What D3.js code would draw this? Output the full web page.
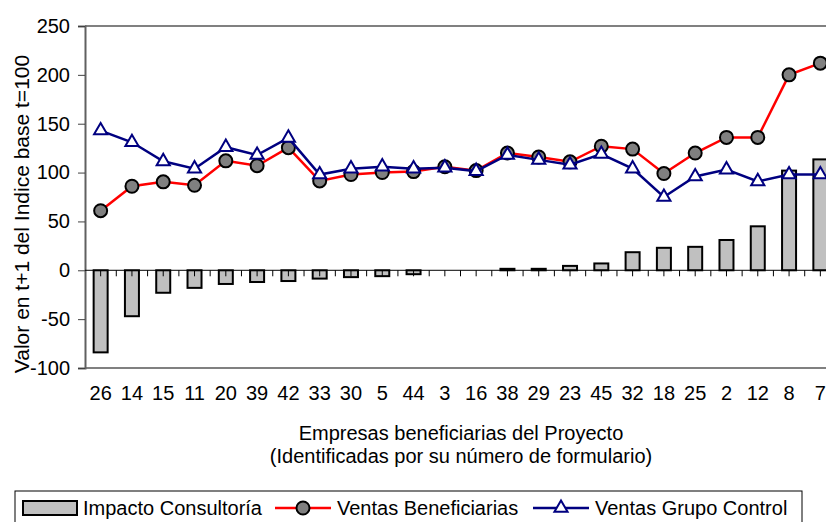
<!DOCTYPE html>
<html>
<head>
<meta charset="utf-8">
<script src="https://cdn.jsdelivr.net/npm/d3@7"></script>
<style>
  body { margin: 0; background: #fff; }
  svg { font-family: 'Liberation Sans', Arial, sans-serif; }
</style>
</head>
<body>
<div class="chart"></div>
<script>
// company ids (form numbers), ordered by consulting impact
var empresas = ['26', '14', '15', '11', '20', '39', '42', '33', '30', '5', '44', '3',
  '16', '38', '29', '23', '45', '32', '18', '25', '2', '12', '8', '7']

var impacto = [-84, -47, -23, -18, -14, -12, -11, -8.5, -7, -6, -4, 0,
  0, 1.5, 1.5, 4.5, 7, 18.5, 23, 24, 31, 45, 102, 113.5]

var ventasBenef = [61, 86, 90.5, 87, 112, 107, 125.5, 91.5, 98, 100, 101, 106,
  102, 120, 116, 111, 127, 124, 99, 120, 136, 136, 200, 212]

var ventasControl = [143, 131, 111.5, 104, 126, 118, 135.5, 98, 104, 106, 104, 105,
  101.5, 118, 113, 108, 119, 104, 75, 96, 103, 91, 98, 98]

var yTicks = [-100, -50, 0, 50, 100, 150, 200, 250]

var W = 826, H = 522
// note: "top" is taken by window.top, so use m.*
var m = { left: 85, right: 836, top: 26, bottom: 368 }

var svg = d3.select('.chart')
  .append('svg')
    .attr('width', W)
    .attr('height', H)

var x = d3.scaleBand()
  .domain(empresas)
  .range([m.left, m.right])

var y = d3.scaleLinear()
  .domain([-100, 250])
  .range([m.bottom, m.top])

var cx = d => x(d) + x.bandwidth() / 2

// plot frame (top and bottom lines gray)
svg.append('line')
  .attr('x1', m.left).attr('x2', W)
  .attr('y1', m.top).attr('y2', m.top)
  .style('stroke', '#808080').style('stroke-width', 2)
svg.append('line')
  .attr('x1', m.left).attr('x2', W)
  .attr('y1', m.bottom).attr('y2', m.bottom)
  .style('stroke', '#808080').style('stroke-width', 2)

// y axis (plain hyphen for negatives, like the original)
var yAxis = svg.append('g')
  .attr('transform', `translate(${m.left},0)`)
  .call(d3.axisLeft(y).tickValues(yTicks).tickSize(7).tickPadding(8).tickFormat(d => String(d)))
yAxis.select('.domain').style('stroke', '#606060').style('stroke-width', 2)
yAxis.selectAll('.tick line').style('stroke', '#404040').style('stroke-width', 1)
yAxis.selectAll('.tick text')
  .style('font-size', '20px')
  .style('fill', '#000')
  .style('font-family', "'Liberation Sans', Arial, sans-serif")

// bars
svg.append('g')
  .selectAll('rect')
  .data(empresas)
  .enter()
    .append('rect')
    .attr('x', d => cx(d) - 7)
    .attr('width', 14)
    .attr('y', (d, i) => y(Math.max(0, impacto[i])))
    .attr('height', (d, i) => Math.abs(y(impacto[i]) - y(0)))
    .style('fill', '#c0c0c0')
    .style('stroke', '#000')
    .style('stroke-width', 2)

// zero line with ticks at centers and boundaries
svg.append('line')
  .attr('x1', m.left).attr('x2', W)
  .attr('y1', y(0)).attr('y2', y(0))
  .style('stroke', '#000').style('stroke-width', 1)
var tickXs = []
empresas.forEach(function (d) {
  tickXs.push(x(d), cx(d))
})
tickXs.push(m.right)
svg.append('g')
  .selectAll('line')
  .data(tickXs.filter(v => v > m.left && v < W))
  .enter()
    .append('line')
    .attr('x1', d => d).attr('x2', d => d)
    .attr('y1', y(0)).attr('y2', y(0) + 6)
    .style('stroke', '#000').style('stroke-width', 1)

// lines
var line = d3.line()
  .x(d => cx(d.k))
  .y(d => y(d.v))

var benef = empresas.map((k, i) => ({ k: k, v: ventasBenef[i] }))
var control = empresas.map((k, i) => ({ k: k, v: ventasControl[i] }))

svg.append('path')
  .datum(benef)
  .attr('d', line)
  .style('fill', 'none')
  .style('stroke', '#ff0000')
  .style('stroke-width', 2.5)

svg.append('g')
  .selectAll('circle')
  .data(benef)
  .enter()
    .append('circle')
    .attr('cx', d => cx(d.k))
    .attr('cy', d => y(d.v))
    .attr('r', 6.5)
    .style('fill', '#808080')
    .style('stroke', '#000')
    .style('stroke-width', 2)

svg.append('path')
  .datum(control)
  .attr('d', line)
  .style('fill', 'none')
  .style('stroke', '#000080')
  .style('stroke-width', 2.5)

var tri = d3.symbol().type(d3.symbolTriangle).size(75)
svg.append('g')
  .selectAll('path')
  .data(control)
  .enter()
    .append('path')
    .attr('d', tri)
    .attr('transform', d => `translate(${cx(d.k)},${y(d.v)})`)
    .style('fill', '#fff')
    .style('stroke', '#000080')
    .style('stroke-width', 2)

// category labels
svg.append('g')
  .selectAll('text')
  .data(empresas)
  .enter()
    .append('text')
    .attr('x', d => cx(d))
    .attr('y', 400)
    .attr('text-anchor', 'middle')
    .style('font-size', '20px')
    .text(d => d)

// axis titles
svg.append('text')
  .attr('x', 461).attr('y', 440)
  .attr('text-anchor', 'middle')
  .style('font-size', '20px')
  .text('Empresas beneficiarias del Proyecto')
svg.append('text')
  .attr('x', 461).attr('y', 463)
  .attr('text-anchor', 'middle')
  .style('font-size', '20px')
  .text('(Identificadas por su número de formulario)')

svg.append('text')
  .attr('transform', 'translate(29,214) rotate(-90)')
  .attr('text-anchor', 'middle')
  .style('font-size', '21px')
  .text('Valor en t+1 del Indice base t=100')

// legend
var lg = svg.append('g')
lg.append('rect')
  .attr('x', 15).attr('y', 491)
  .attr('width', 787).attr('height', 40)
  .style('fill', '#fff')
  .style('stroke', '#000')
  .style('stroke-width', 1)

lg.append('rect')
  .attr('x', 23).attr('y', 501)
  .attr('width', 54).attr('height', 14)
  .style('fill', '#c0c0c0')
  .style('stroke', '#000')
  .style('stroke-width', 2)
lg.append('text')
  .attr('x', 83).attr('y', 515)
  .style('font-size', '20px')
  .text('Impacto Consultoría')

lg.append('line')
  .attr('x1', 275).attr('x2', 331)
  .attr('y1', 508).attr('y2', 508)
  .style('stroke', '#ff0000').style('stroke-width', 2.5)
lg.append('circle')
  .attr('cx', 303).attr('cy', 508).attr('r', 6.5)
  .style('fill', '#808080')
  .style('stroke', '#000')
  .style('stroke-width', 2)
lg.append('text')
  .attr('x', 337).attr('y', 515)
  .style('font-size', '20px')
  .text('Ventas Beneficiarias')

lg.append('line')
  .attr('x1', 533).attr('x2', 589)
  .attr('y1', 508).attr('y2', 508)
  .style('stroke', '#000080').style('stroke-width', 2.5)
lg.append('path')
  .attr('d', tri)
  .attr('transform', 'translate(561,508)')
  .style('fill', '#fff')
  .style('stroke', '#000080')
  .style('stroke-width', 2)
lg.append('text')
  .attr('x', 595).attr('y', 515)
  .style('font-size', '20px')
  .text('Ventas Grupo Control')
</script>
</body>
</html>
